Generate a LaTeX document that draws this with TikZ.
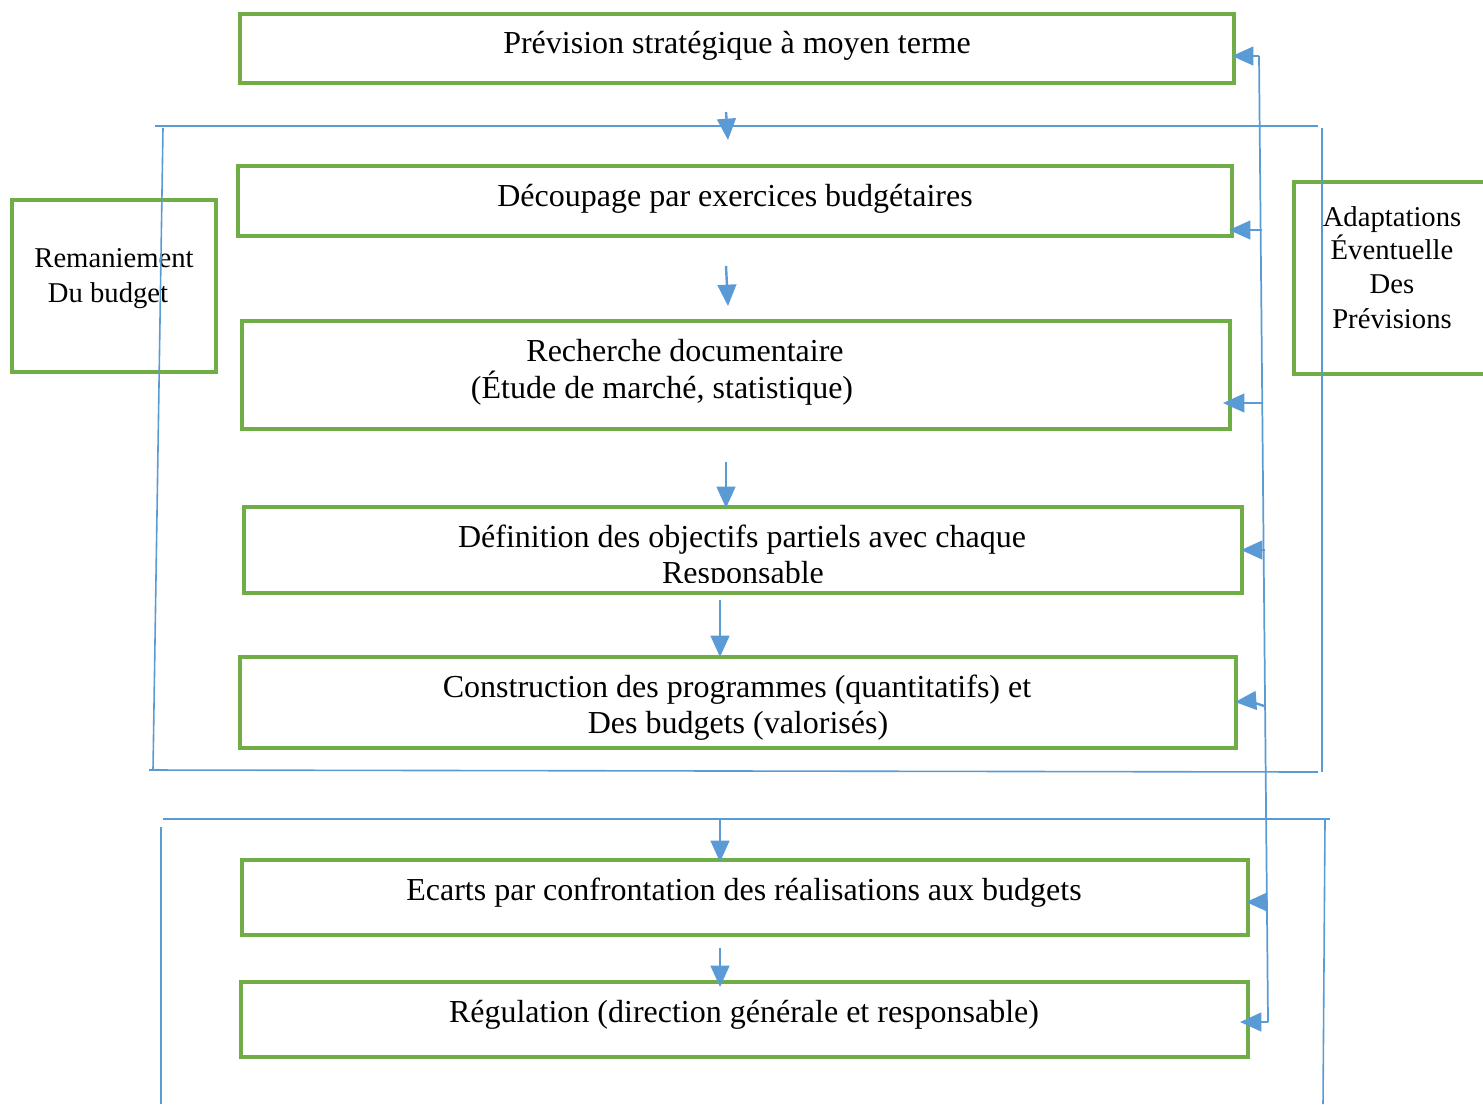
\documentclass[tikz,border=0pt]{standalone}
\usepackage{fontspec}
\setmainfont{Liberation Serif}
\usetikzlibrary{arrows.meta,fit}
\definecolor{boxgreen}{RGB}{112,173,71}
\definecolor{lineblue}{RGB}{91,155,213}
\begin{document}
\begin{tikzpicture}[x=0.75pt,y=-0.75pt,
  gbox/.style={draw=boxgreen, line width=2.3pt, inner sep=0pt},
  maintext/.style={anchor=base, inner sep=0pt, font=\fontsize{24}{27}\selectfont},
  sidetext/.style={anchor=base, inner sep=0pt, font=\fontsize{21.5}{25}\selectfont},
  frame/.style={draw=lineblue, line width=1.2pt},
  flow/.style={draw=lineblue, line width=1.8pt, -{Triangle[length=16pt,width=14pt]}},
  feed/.style={draw=lineblue, line width=1.3pt}]
\useasboundingbox (0,0) rectangle (1483,1104);

% process boxes
\node[gbox, fit={(240,14) (1234,83)}] (b1) {};
\node[gbox, fit={(238,166) (1232,236)}] (b2) {};
\node[gbox, fit={(242,321) (1230,429)}] (b3) {};
\node[gbox, fit={(244,507) (1242,593)}] (b4) {};
\node[gbox, fit={(240,657) (1236,748)}] (b5) {};
\node[gbox, fit={(242,860) (1248,935)}] (b6) {};
\node[gbox, fit={(241,982) (1248,1057)}] (b7) {};
% side boxes
\node[gbox, fit={(12,200) (216,372)}] (rem) {};
\begin{scope}
  \clip (0,0) rectangle (1483,1104);
  \node[gbox, fit={(1294,182) (1500,374)}] (adp) {};
\end{scope}

% labels
\node[maintext] (t1) at (737,53) {Prévision stratégique à moyen terme};
\node[maintext] (t2) at (735,206) {Découpage par exercices budgétaires};
\node[maintext] (t3a) at (685,361) {Recherche documentaire};
\node[maintext] (t3b) at (662,398) {(Étude de marché, statistique)};
\node[maintext] (t4a) at (742,547) {Définition des objectifs partiels avec chaque};
\begin{scope}
  \clip (244,507) rectangle (1242,582);
  \node[maintext] (t4b) at (743,583) {Responsable};
\end{scope}
\node[maintext] (t5a) at (737,697) {Construction des programmes (quantitatifs) et};
\node[maintext] (t5b) at (738,733) {Des budgets (valorisés)};
\node[maintext] (t6) at (744,900) {Ecarts par confrontation des réalisations aux budgets};
\node[maintext] (t7) at (744,1022) {Régulation (direction générale et responsable)};

\node[sidetext] (r1) at (114,267) {Remaniement};
\node[sidetext] (r2) at (108,302) {Du budget};
\node[sidetext] (a1) at (1392,226) {Adaptations};
\node[sidetext] (a2) at (1392,259) {Éventuelle};
\node[sidetext] (a3) at (1392,293) {Des};
\node[sidetext] (a4) at (1392,328) {Prévisions};

% planning frame
\draw[frame] (155,126) -- (1318,126);
\draw[frame] (1322,128) -- (1322,772);
\draw[frame] (163,128) -- (153,770);
\draw[frame] (149,770) -- (1318,772);
% control frame
\draw[frame] (163,819) -- (1330,819);
\draw[frame] (161,827) -- (161,1104);
\draw[frame] (1325,820) -- (1323,1104);

% main flow
\coordinate (d1s) at (726,112); \coordinate (d1e) at (728,140);
\coordinate (d2s) at (726,266); \coordinate (d2e) at (728,306);
\coordinate (d3s) at (726,462); \coordinate (d3e) at (726,508);
\coordinate (d4s) at (720,600); \coordinate (d4e) at (720,657);
\coordinate (d5s) at (720,819); \coordinate (d5e) at (720,862);
\coordinate (d6s) at (720,948); \coordinate (d6e) at (720,987);
\draw[flow] (d1s) -- (d1e);
\draw[flow] (d2s) -- (d2e);
\draw[flow] (d3s) -- (d3e);
\draw[flow] (d4s) -- (d4e);
\draw[flow] (d5s) -- (d5e);
\draw[flow] (d6s) -- (d6e);

% feedback line
\coordinate (f1) at (1259,56);
\coordinate (f2) at (1262,230);
\coordinate (f3) at (1263,403);
\coordinate (f4) at (1265,550);
\coordinate (f5) at (1264,706);
\coordinate (f6) at (1267,902);
\coordinate (f7) at (1268,1022);
\draw[feed] (f1) -- (f7);
\draw[flow] (f1) -- (1232,56);
\draw[flow] (f2) -- (1229,230);
\draw[flow] (f3) -- (1223,403);
\draw[flow] (f4) -- (1241,550);
\draw[flow] (f5) to[bend right=12] (1235,702);
\draw[flow] (f6) -- (1246,902);
\draw[flow] (f7) -- (1240,1022);
\end{tikzpicture}
\end{document}
